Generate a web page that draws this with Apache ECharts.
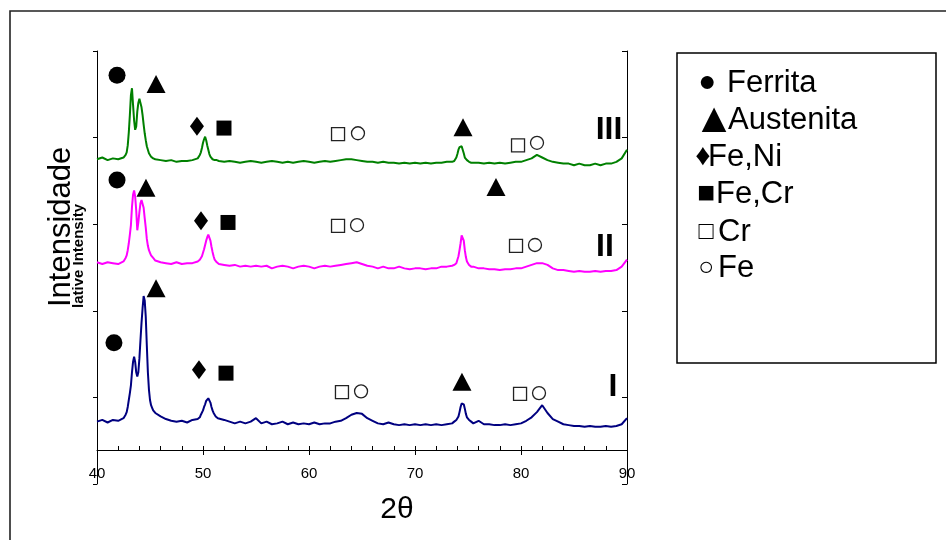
<!DOCTYPE html>
<html>
<head>
<meta charset="utf-8">
<script src="https://cdn.jsdelivr.net/npm/echarts@6.0.0/dist/echarts.min.js"></script>
<style>
    html, body { margin: 0; padding: 0; background: #fff; }
    #main { width: 946px; height: 540px; }
</style>
</head>
<body>
<div id="main"></div>
<script>
    // 2-theta positions (degrees), finer around the peaks
    var twoTheta = [
        40, 40.5, 41, 41.5, 42, 42.5,
        42.6, 42.7, 42.8, 42.9, 43, 43.1, 43.2, 43.3, 43.4, 43.5, 43.6, 43.7, 43.8, 43.9,
        44, 44.1, 44.2, 44.3, 44.4, 44.5, 44.6, 44.7, 44.8, 44.9, 45, 45.1, 45.2, 45.3, 45.4,
        45.5, 46, 46.5, 47, 47.5, 48, 48.5, 49, 49.5,
        49.6, 49.7, 49.8, 49.9, 50, 50.1, 50.2, 50.3, 50.4, 50.5, 50.6, 50.7, 50.8, 50.9,
        51, 51.1, 51.2, 51.3, 51.4,
        51.5, 52, 52.5, 53, 53.5, 54, 54.5, 55, 55.5, 56, 56.5, 57, 57.5, 58, 58.5, 59, 59.5,
        60, 60.5, 61, 61.5, 62, 62.5, 63, 63.5, 64, 64.5, 65, 65.5, 66, 66.5, 67, 67.5, 68,
        68.5, 69, 69.5, 70, 70.5, 71, 71.5, 72, 72.5, 73, 73.5,
        73.6, 73.7, 73.8, 73.9, 74, 74.1, 74.2, 74.3, 74.4, 74.5, 74.6, 74.7, 74.8, 74.9,
        75, 75.1, 75.2, 75.3, 75.4,
        75.5, 76, 76.5, 77, 77.5, 78, 78.5, 79, 79.5, 80, 80.5, 81, 81.5, 82, 82.5, 83, 83.5,
        84, 84.5, 85, 85.5, 86, 86.5, 87, 87.5, 88, 88.5, 89, 89.5, 90
    ];

    // sample I (bottom, navy)
    var intensityI = [
        72, 74, 71, 74, 73, 76,
        77, 80, 83, 89, 97, 105, 114, 129, 141, 147, 141, 129, 124, 129,
        145, 166, 186, 203, 217, 212, 193, 160, 129, 109, 97, 91, 88, 85, 83,
        82, 78, 75, 73, 72, 73, 71, 74, 75,
        76, 77, 80, 82, 85, 89, 92, 96, 98, 99, 98, 94, 89, 85,
        82, 80, 78, 76, 76,
        75, 74, 72, 70, 72, 70, 72, 76, 70, 72, 69, 70, 72, 69, 71, 69, 70,
        69, 71, 69, 70, 70, 72, 73, 76, 80, 82, 81, 76, 73, 70, 69, 71, 69,
        68, 69, 68, 69, 68, 69, 68, 69, 68, 69, 70,
        70, 72, 73, 74, 76, 78, 83, 89, 93, 95, 92, 87, 81, 77,
        75, 74, 73, 72, 72,
        70, 73, 69, 69, 68, 68, 69, 68, 69, 70, 73, 77, 83, 91, 82, 75, 72,
        69, 68, 67, 67, 66, 67, 66, 66, 67, 66, 67, 69, 76
    ];

    // sample II (middle, magenta)
    var intensityII = [
        256, 254, 256, 255, 254, 257,
        259, 261, 264, 270, 278, 288, 299, 320, 334, 339, 332, 316, 293, 302,
        314, 324, 328, 326, 319, 307, 296, 283, 275, 270, 267, 264, 262, 261, 259,
        258, 256, 255, 254, 256, 254, 255, 255, 257,
        257, 259, 261, 263, 267, 271, 276, 281, 285, 288, 286, 281, 274, 268,
        263, 259, 257, 256, 255,
        254, 253, 252, 253, 251, 252, 251, 252, 251, 252, 249, 251, 252, 251, 249, 251, 252,
        251, 249, 251, 252, 251, 252, 253, 254, 255, 256, 254, 252, 251, 249, 251, 249, 249,
        251, 249, 248, 249, 249, 248, 249, 249, 251, 251, 252,
        252, 253, 254, 255, 259, 263, 270, 278, 287, 288, 281, 270, 262, 257,
        255, 253, 252, 251, 251,
        251, 249, 249, 248, 248, 247, 248, 248, 249, 249, 251, 253, 255, 255, 253, 249, 247,
        247, 246, 245, 246, 245, 245, 246, 245, 246, 246, 247, 251, 259
    ];

    // sample III (top, green)
    var intensityIII = [
        375, 377, 374, 376, 375, 377,
        378, 380, 383, 391, 406, 426, 449, 457, 438, 420, 409, 413, 430, 440,
        445, 444, 435, 426, 415, 405, 397, 390, 386, 382, 380, 378, 377, 376, 376,
        375, 374, 373, 374, 372, 373, 373, 374, 376,
        378, 380, 383, 388, 394, 398, 401, 397, 391, 386, 381, 378, 376, 375,
        375, 374, 373, 374, 373,
        373, 372, 373, 372, 371, 372, 373, 372, 371, 372, 373, 372, 371, 372, 371, 372, 373,
        372, 371, 372, 373, 372, 373, 374, 375, 375, 374, 373, 372, 372, 371, 372, 371, 371,
        370, 371, 370, 371, 370, 371, 370, 371, 371, 372, 372,
        372, 373, 375, 377, 381, 386, 389, 391, 390, 386, 382, 377, 375, 374,
        373, 372, 372, 371, 372,
        371, 371, 370, 371, 370, 371, 370, 371, 372, 372, 374, 376, 380, 377, 374, 372, 371,
        370, 370, 368, 370, 368, 368, 370, 368, 370, 370, 372, 376, 386
    ];

    // phase markers [2theta, intensity]
    var ferritaPts = [[41.89, 472], [41.89, 351], [41.6, 163]];
    var austenitaPts = [[45.57, 462], [74.53, 412], [44.62, 342], [77.64, 343], [45.57, 226], [74.43, 118]];
    var feNiPts = [[49.43, 413], [49.81, 304], [49.62, 132]];
    var feCrPts = [[51.98, 411], [52.36, 302], [52.17, 128]];
    var crPts = [[62.74, 404], [79.72, 391], [62.74, 298], [79.53, 275], [63.11, 106], [79.91, 104]];
    var fePts = [[64.62, 405], [81.51, 394], [64.53, 299], [81.32, 276], [64.91, 107], [81.7, 105]];

    var sampleNames = ['III', 'II', 'I'];
    var samplePos = [[88.3, 409], [87.92, 274], [88.68, 112]];

    // legend box: glyph + phase name
    var legendGlyphs = ['\u25CF', '\u25B2', '\u2666', '\u25A0', '\u25A1', '\u25CB'];
    var legendNames = ['Ferrita', 'Austenita', 'Fe,Ni', 'Fe,Cr', 'Cr', 'Fe'];

    var FONT = '"Liberation Sans", Arial, sans-serif';

    function pairs(ys) {
        return twoTheta.map(function (x, i) { return [x, ys[i]]; });
    }

    function lineSeries(name, ys, color) {
        return {
            name: name,
            type: 'line',
            xAxisIndex: 0,
            yAxisIndex: 0,
            symbol: 'none',
            lineStyle: { color: color, width: 2 },
            data: pairs(ys),
            z: 2
        };
    }

    function markerSeries(name, pts, symbol, size, itemStyle) {
        itemStyle.opacity = 1;
        return {
            name: name,
            type: 'scatter',
            xAxisIndex: 0,
            yAxisIndex: 0,
            symbol: symbol,
            symbolSize: size,
            itemStyle: itemStyle,
            emphasis: { disabled: true },
            data: pts,
            z: 5
        };
    }

    // legend layout (pixels)
    var glyphX = [707, 714, 703, 706, 706, 706];
    var glyphSize = [30, 42, 30, 30, 25, 26];
    var nameX = [727, 728, 708, 716, 718, 718];
    var rowY = [83, 120, 157, 194, 232, 268];

    var legendGraphics = [];
    legendNames.forEach(function (n, i) {
        legendGraphics.push({
            type: 'text', x: glyphX[i], y: rowY[i], silent: true,
            style: {
                text: legendGlyphs[i], fontSize: glyphSize[i], fontFamily: FONT,
                fill: '#000', align: 'center', verticalAlign: 'middle'
            }
        });
        legendGraphics.push({
            type: 'text', x: nameX[i], y: rowY[i], silent: true,
            style: {
                text: n, fontSize: 31, fontFamily: FONT,
                fill: '#000', align: 'left', verticalAlign: 'middle'
            }
        });
    });

    var chart = echarts.init(document.getElementById('main'), null, { renderer: 'canvas' });

    chart.setOption({
        animation: false,
        backgroundColor: '#fff',
        textStyle: { fontFamily: FONT },
        grid: [
            { left: 97, top: 51, width: 530, height: 433, outerBoundsMode: 'none' },
            { left: 97, top: 51, width: 530, height: 399, outerBoundsMode: 'none' }
        ],
        xAxis: [
            { gridIndex: 0, type: 'value', min: 40, max: 90, show: false },
            {
                gridIndex: 1, type: 'value', min: 40, max: 90, interval: 10, position: 'bottom',
                axisLine: { lineStyle: { color: '#000', width: 1 } },
                axisTick: { inside: true, length: 4, lineStyle: { color: '#000' } },
                minorTick: { show: true, splitNumber: 5, length: 4, lineStyle: { color: '#000' } },
                axisLabel: { fontSize: 15, color: '#000', margin: 16, fontFamily: FONT },
                splitLine: { show: false },
                name: '2\u03B8',
                nameLocation: 'middle',
                nameGap: 45,
                nameMoveOverlap: false,
                nameTextStyle: { fontSize: 30, color: '#000', fontFamily: FONT, padding: [0, 0, 0, 70] }
            },
            {
                gridIndex: 1, type: 'value', min: 40, max: 90, interval: 10, position: 'bottom',
                axisLine: { show: false },
                axisTick: { inside: false, length: 5, lineStyle: { color: '#000' } },
                axisLabel: { show: false },
                splitLine: { show: false }
            }
        ],
        yAxis: [
            {
                gridIndex: 0, type: 'value', min: 0, max: 500, interval: 100, position: 'left',
                axisLine: { show: true, lineStyle: { color: '#000', width: 1 } },
                axisTick: { show: true, inside: false, length: 4, lineStyle: { color: '#000' } },
                axisLabel: { show: false },
                splitLine: { show: false }
            },
            {
                gridIndex: 0, type: 'value', min: 0, max: 500, interval: 100, position: 'right',
                axisLine: { show: true, lineStyle: { color: '#000', width: 1 } },
                axisTick: { show: true, inside: true, length: 5, lineStyle: { color: '#000' } },
                axisLabel: { show: false },
                splitLine: { show: false }
            },
            { gridIndex: 1, type: 'value', min: 0, max: 1, show: false }
        ],
        graphic: [
            {
                type: 'rect',
                shape: { x: 10, y: 11, width: 1000, height: 1000 },
                style: { fill: 'none', stroke: '#222', lineWidth: 1.6 },
                silent: true
            },
            {
                type: 'rect',
                shape: { x: 677, y: 53, width: 259, height: 310 },
                style: { fill: '#fff', stroke: '#000', lineWidth: 1.5 },
                silent: true
            },
            {
                type: 'text',
                x: 61,
                y: 307,
                rotation: Math.PI / 2,
                style: {
                    text: 'Intensidade',
                    fontSize: 31,
                    fontFamily: FONT,
                    fill: '#000',
                    align: 'left',
                    verticalAlign: 'middle'
                },
                silent: true
            },
            {
                type: 'text',
                x: 79,
                y: 308,
                rotation: Math.PI / 2,
                style: {
                    text: 'lative Intensity',
                    fontSize: 15,
                    fontWeight: 'bold',
                    fontFamily: FONT,
                    fill: '#000',
                    align: 'left',
                    verticalAlign: 'middle'
                },
                silent: true
            }
        ].concat(legendGraphics),
        series: [
            lineSeries('I', intensityI, '#000080'),
            lineSeries('II', intensityII, '#ff00ff'),
            lineSeries('III', intensityIII, '#008000'),
            markerSeries('Ferrita', ferritaPts, 'circle', 17, { color: '#000' }),
            markerSeries('Austenita', austenitaPts, 'triangle', [19, 18], { color: '#000' }),
            markerSeries('Fe,Ni', feNiPts, 'diamond', [14, 19], { color: '#000' }),
            markerSeries('Fe,Cr', feCrPts, 'rect', 15, { color: '#000' }),
            markerSeries('Cr', crPts, 'rect', 13, { color: '#fff', borderColor: '#222', borderWidth: 1.3 }),
            markerSeries('Fe', fePts, 'circle', 13, { color: '#fff', borderColor: '#222', borderWidth: 1.3 }),
            {
                name: 'samples',
                type: 'scatter',
                xAxisIndex: 0,
                yAxisIndex: 0,
                symbolSize: 1,
                itemStyle: { color: 'rgba(0,0,0,0)', opacity: 1 },
                emphasis: { disabled: true },
                label: {
                    show: true,
                    position: 'inside',
                    formatter: '{b}',
                    fontSize: 32,
                    fontWeight: 'bold',
                    color: '#000',
                    opacity: 1,
                    fontFamily: FONT
                },
                data: sampleNames.map(function (n, i) { return { name: n, value: samplePos[i] }; }),
                z: 6
            }
        ]
    });
</script>
</body>
</html>
